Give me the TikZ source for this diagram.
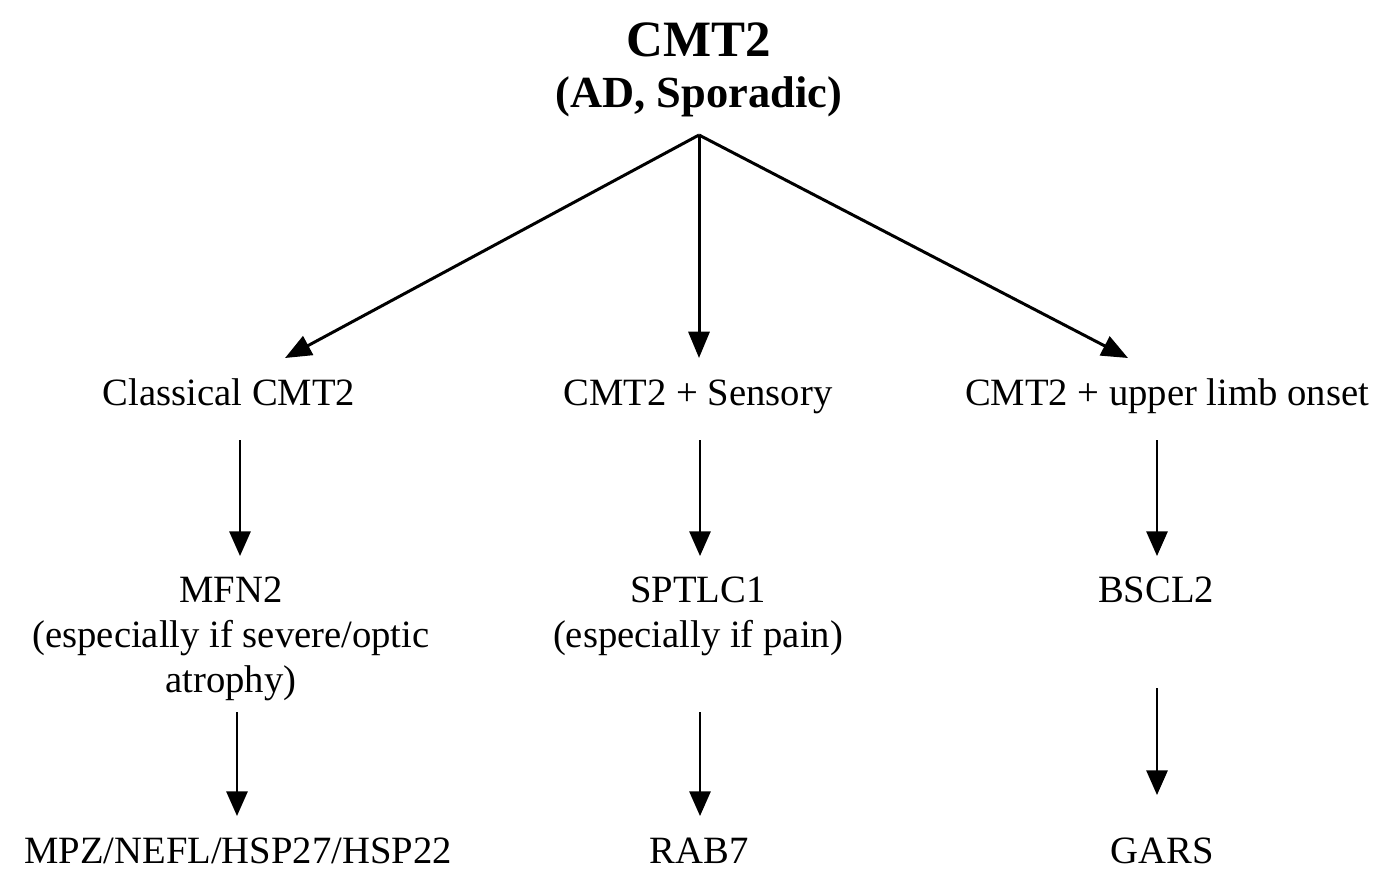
\documentclass[tikz,border=0pt]{standalone}
\usepackage{fontspec}
\setmainfont{Liberation Serif}
\usetikzlibrary{arrows.meta}
\begin{document}
\begin{tikzpicture}[x=0.02cm,y=-0.02cm,
  lbl/.style={font=\fontsize{22}{25.6}\selectfont, align=center, inner sep=0pt, anchor=base},
  ttl/.style={inner sep=0pt, anchor=base},
  arr/.style={line width=1.7pt, -{Triangle[length=15pt,width=12pt]}},
  varr/.style={line width=1.4pt, -{Triangle[length=14pt,width=12pt]}}]
\useasboundingbox (0,0) rectangle (1375,870);
% heading
\node[ttl, font=\fontsize{29}{30}\selectfont\bfseries] (head) at (699,56) {CMT2};
\node[ttl, font=\fontsize{25.3}{30}\selectfont\bfseries] (sub) at (699,107) {(AD, Sporadic)};
\coordinate (apex) at (699,135);
% first branching
\node[lbl] (classic) at (229,405) {Classical CMT2};
\node[lbl] (sens) at (698,405) {CMT2 + Sensory};
\node[lbl] (upper) at (1167,405) {CMT2 + upper limb onset};
\coordinate (eL) at (285,358);
\coordinate (eM) at (699,358);
\coordinate (eR) at (1128,358);
\draw[arr] (apex) -- (eL);
\draw[arr] (apex) -- (eM);
\draw[arr] (apex) -- (eR);
% second level (base anchor sits on the last line)
\node[lbl] (mfn) at (231,692) {MFN2\\(especially if severe/optic\\atrophy)};
\node[lbl] (sptlc) at (698,647) {SPTLC1\\(especially if pain)};
\node[lbl] (bscl) at (1156,602) {BSCL2};
\draw[varr] (240,440) coordinate (a1) -- (240,556) coordinate (b1);
\draw[varr] (700,440) coordinate (a2) -- (700,556) coordinate (b2);
\draw[varr] (1157,440) coordinate (a3) -- (1157,556) coordinate (b3);
% third level
\node[lbl] (mpz) at (238,863) {MPZ/NEFL/HSP27/HSP22};
\node[lbl] (rab) at (699,863) {RAB7};
\node[lbl] (gars) at (1162,863) {GARS};
\draw[varr] (237,712) coordinate (c1) -- (237,816) coordinate (d1);
\draw[varr] (700,712) coordinate (c2) -- (700,816) coordinate (d2);
\draw[varr] (1157,688) coordinate (c3) -- (1157,795) coordinate (d3);
\end{tikzpicture}
\end{document}
